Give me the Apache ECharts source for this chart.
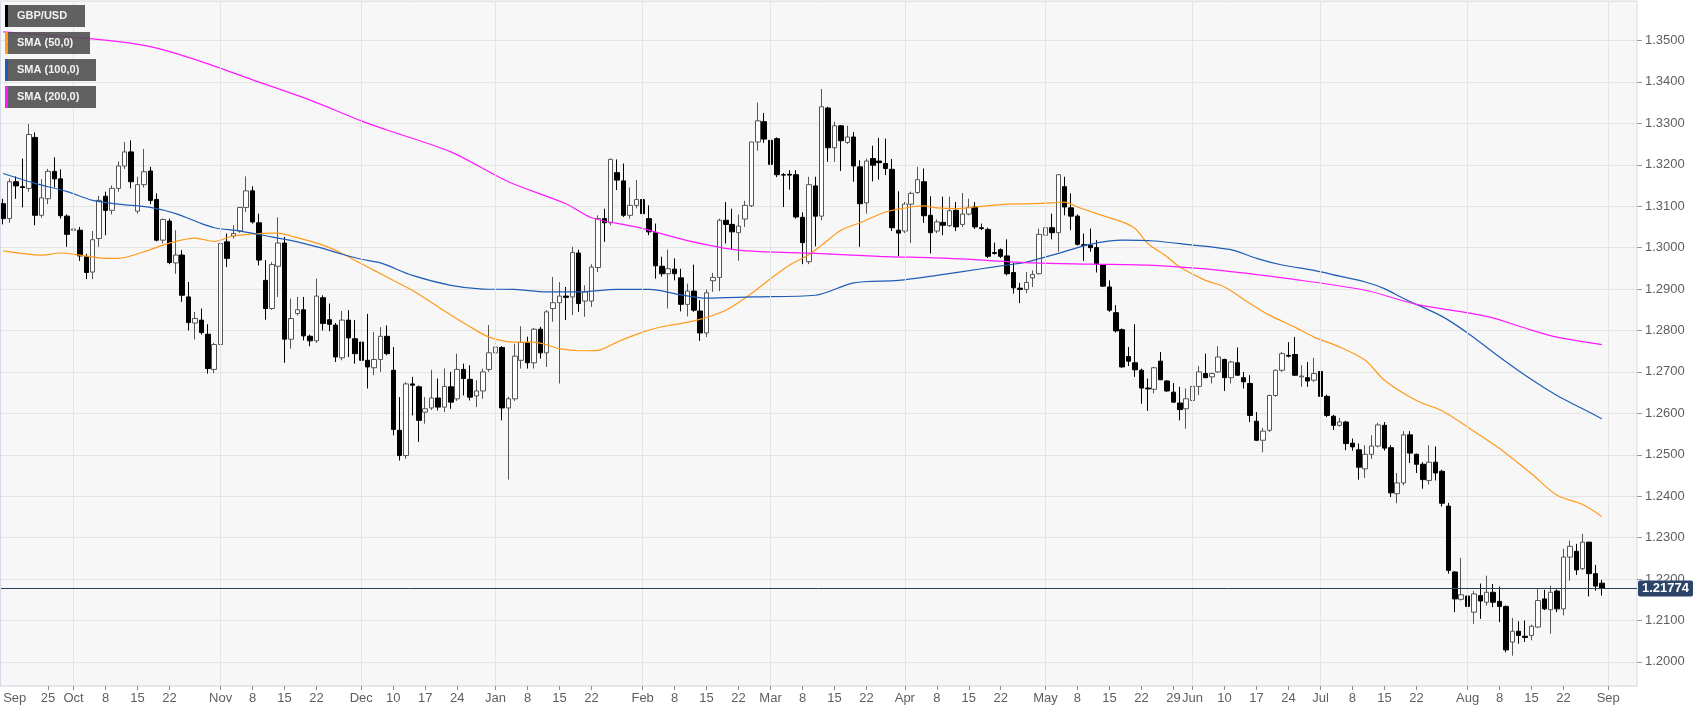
<!DOCTYPE html>
<html>
<head>
<meta charset="utf-8">
<script src="https://cdn.jsdelivr.net/npm/echarts@6/dist/echarts.min.js"></script>
<style>
html,body{margin:0;padding:0;background:#ffffff;}
#chart{width:1707px;height:712px;}
</style>
</head>
<body>
<div id="chart"></div>
<script>
// ---------- DATA ----------
const firstDay = '2018-09-14';
const slotCount = 256; // trading-day slots on the axis (data + empty space at right)

// candles per month: [open, high, low, close]
const candlesSep18 = [
  [1.3106,1.3118,1.3056,1.3070],[1.3070,1.3167,1.3060,1.3159],[1.3159,1.3172,1.3118,1.3149],
  [1.3147,1.3215,1.3097,1.3145],[1.3143,1.3298,1.3135,1.3273],[1.3266,1.3278,1.3054,1.3078],
  [1.3078,1.3165,1.3072,1.3120],[1.3118,1.3190,1.3105,1.3184],[1.3184,1.3218,1.3145,1.3166],
  [1.3166,1.3189,1.3070,1.3077],[1.3076,1.3080,1.3002,1.3032]
];
const candlesOct18 = [
  [1.3042,1.3074,1.3026,1.3045],[1.3042,1.3050,1.2968,1.2980],[1.2978,1.2985,1.2924,1.2940],
  [1.2941,1.3040,1.2924,1.3019],[1.3022,1.3125,1.3002,1.3114],[1.3124,1.3135,1.3030,1.3090],
  [1.3090,1.3150,1.3080,1.3143],[1.3143,1.3208,1.3135,1.3197],[1.3197,1.3255,1.3190,1.3231],
  [1.3231,1.3259,1.3143,1.3159],[1.3088,1.3171,1.3082,1.3152],[1.3152,1.3238,1.3145,1.3183],
  [1.3185,1.3195,1.3105,1.3114],[1.3116,1.3131,1.3015,1.3018],[1.3018,1.3070,1.3010,1.3068],
  [1.3064,1.3070,1.2960,1.2964],[1.2963,1.3042,1.2937,1.2982],[1.2982,1.2994,1.2869,1.2885],
  [1.2881,1.2917,1.2800,1.2819],[1.2818,1.2845,1.2778,1.2829],[1.2825,1.2853,1.2790,1.2795],
  [1.2791,1.2815,1.2696,1.2708],[1.2706,1.2770,1.2697,1.2766]
];
const candlesNov18 = [
  [1.2766,1.3020,1.2760,1.3010],[1.3014,1.3034,1.2953,1.2974],[1.3028,1.3054,1.3022,1.3034],
  [1.3040,1.3098,1.3036,1.3097],[1.3097,1.3172,1.3086,1.3137],[1.3137,1.3148,1.3058,1.3062],
  [1.3060,1.3082,1.2957,1.2970],[1.2921,1.2970,1.2826,1.2853],[1.2853,1.2965,1.2850,1.2959],
  [1.2955,1.3073,1.2881,1.3011],[1.3011,1.3026,1.2722,1.2779],[1.2779,1.2877,1.2756,1.2829],
  [1.2841,1.2881,1.2836,1.2850],[1.2850,1.2881,1.2776,1.2787],[1.2786,1.2790,1.2762,1.2775],
  [1.2775,1.2925,1.2770,1.2883],[1.2879,1.2885,1.2800,1.2817],[1.2826,1.2865,1.2798,1.2815],
  [1.2813,1.2818,1.2724,1.2736],[1.2734,1.2847,1.2728,1.2825],[1.2825,1.2849,1.2736,1.2782],
  [1.2780,1.2825,1.2720,1.2744]
];
const candlesDec18 = [
  [1.2772,1.2825,1.2708,1.2728],[1.2728,1.2840,1.2660,1.2712],[1.2710,1.2796,1.2692,1.2730],
  [1.2730,1.2808,1.2700,1.2786],[1.2786,1.2812,1.2740,1.2744],[1.2704,1.2760,1.2547,1.2561],
  [1.2559,1.2639,1.2486,1.2498],[1.2498,1.2675,1.2490,1.2671],[1.2671,1.2688,1.2595,1.2668],
  [1.2664,1.2667,1.2531,1.2583],[1.2603,1.2639,1.2575,1.2611],[1.2613,1.2705,1.2608,1.2637],
  [1.2637,1.2684,1.2607,1.2615],[1.2615,1.2708,1.2603,1.2665],[1.2664,1.2700,1.2611,1.2627],
  [1.2635,1.2744,1.2630,1.2706],[1.2706,1.2720,1.2643,1.2684],[1.2682,1.2716,1.2631,1.2639],
  [1.2642,1.2680,1.2615,1.2654],[1.2654,1.2708,1.2635,1.2700],[1.2706,1.2813,1.2700,1.2746]
];
const candlesJan19 = [
  [1.2746,1.2775,1.2724,1.2760],[1.2759,1.2762,1.2583,1.2613],[1.2613,1.2640,1.2440,1.2635],
  [1.2635,1.2768,1.2630,1.2738],[1.2728,1.2810,1.2708,1.2771],[1.2771,1.2785,1.2708,1.2722],
  [1.2722,1.2806,1.2708,1.2803],[1.2803,1.2809,1.2732,1.2746],[1.2746,1.2849,1.2712,1.2845],
  [1.2853,1.2929,1.2821,1.2867],[1.2867,1.2917,1.2672,1.2883],[1.2883,1.2905,1.2825,1.2880],
  [1.2881,1.3002,1.2837,1.2988],[1.2987,1.2995,1.2845,1.2865],[1.2871,1.2909,1.2833,1.2893],
  [1.2871,1.2960,1.2857,1.2953],[1.2952,1.3078,1.2941,1.3070],[1.3070,1.3094,1.3014,1.3060],
  [1.3060,1.3215,1.3054,1.3213],[1.3181,1.3213,1.3139,1.3163],[1.3161,1.3203,1.3074,1.3078],
  [1.3078,1.3145,1.3070,1.3102],[1.3102,1.3163,1.3095,1.3116]
];
const candlesFeb19 = [
  [1.3116,1.3120,1.3075,1.3082],[1.3070,1.3102,1.3030,1.3038],[1.3036,1.3058,1.2925,1.2956],
  [1.2955,1.2978,1.2930,1.2937],[1.2937,1.2995,1.2853,1.2949],[1.2948,1.2974,1.2921,1.2937],
  [1.2927,1.2949,1.2846,1.2863],[1.2863,1.2913,1.2834,1.2895],[1.2895,1.2959,1.2845,1.2849],
  [1.2847,1.2873,1.2775,1.2794],[1.2794,1.2899,1.2784,1.2891],[1.2920,1.2939,1.2893,1.2928],
  [1.2928,1.3070,1.2895,1.3066],[1.3066,1.3110,1.3010,1.3056],[1.3056,1.3094,1.2995,1.3038],
  [1.3036,1.3080,1.2968,1.3052],[1.3069,1.3113,1.3050,1.3102],[1.3101,1.3255,1.3098,1.3255],
  [1.3255,1.3350,1.3234,1.3306],[1.3304,1.3325,1.3253,1.3262]
];
const candlesMar19 = [
  [1.3259,1.3284,1.3175,1.3201],[1.3263,1.3266,1.3170,1.3176],[1.3176,1.3180,1.3098,1.3175],
  [1.3177,1.3187,1.3140,1.3175],[1.3176,1.3187,1.3070,1.3074],[1.3073,1.3085,1.2960,1.3012],
  [1.2966,1.3171,1.2960,1.3152],[1.3149,1.3171,1.3003,1.3076],[1.3076,1.3383,1.3066,1.3340],
  [1.3337,1.3340,1.3207,1.3241],[1.3241,1.3304,1.3207,1.3294],[1.3294,1.3296,1.3185,1.3258],
  [1.3254,1.3294,1.3250,1.3267],[1.3267,1.3279,1.3159,1.3197],[1.3195,1.3211,1.3002,1.3106],
  [1.3108,1.3215,1.3082,1.3209],[1.3215,1.3246,1.3160,1.3199],[1.3209,1.3265,1.3164,1.3205],
  [1.3203,1.3263,1.3175,1.3191],[1.3189,1.3214,1.3040,1.3048],[1.3042,1.3136,1.2979,1.3035]
];
const candlesApr19 = [
  [1.3040,1.3110,1.3035,1.3105],[1.3105,1.3135,1.3011,1.3131],[1.3133,1.3195,1.3130,1.3164],
  [1.3159,1.3191,1.3060,1.3077],[1.3078,1.3124,1.2986,1.3036],[1.3040,1.3068,1.3035,1.3062],
  [1.3061,1.3123,1.3030,1.3054],[1.3053,1.3123,1.3050,1.3089],[1.3090,1.3110,1.3040,1.3050],
  [1.3056,1.3132,1.3050,1.3081],[1.3081,1.3118,1.3078,1.3097],[1.3098,1.3110,1.3045,1.3050],
  [1.3048,1.3058,1.3042,1.3046],[1.3044,1.3048,1.2975,1.2979],[1.2988,1.3012,1.2983,1.2986],
  [1.2995,1.2998,1.2975,1.2979],[1.2980,1.3020,1.2933,1.2937],[1.2940,1.2963,1.2889,1.2903],
  [1.2902,1.2915,1.2866,1.2899],[1.2899,1.2941,1.2890,1.2916],[1.2927,1.2945,1.2905,1.2935],
  [1.2937,1.3046,1.2935,1.3032]
];
const candlesMay19 = [
  [1.3030,1.3101,1.3025,1.3048],[1.3048,1.3082,1.3020,1.3036],[1.3036,1.3176,1.2990,1.3176],
  [1.3147,1.3171,1.3078,1.3098],[1.3096,1.3131,1.3042,1.3076],[1.3076,1.3080,1.3005,1.3008],
  [1.3007,1.3034,1.2968,1.3005],[1.3006,1.3046,1.2990,1.3000],[1.3000,1.3018,1.2940,1.2962],
  [1.2958,1.2960,1.2905,1.2907],[1.2905,1.2921,1.2845,1.2849],[1.2843,1.2861,1.2795,1.2799],
  [1.2802,1.2805,1.2710,1.2712],[1.2737,1.2760,1.2714,1.2726],[1.2722,1.2815,1.2688,1.2705],
  [1.2704,1.2708,1.2623,1.2661],[1.2661,1.2684,1.2606,1.2659],[1.2658,1.2712,1.2648,1.2710],
  [1.2726,1.2748,1.2680,1.2681],[1.2678,1.2680,1.2652,1.2654],[1.2651,1.2673,1.2625,1.2627],
  [1.2625,1.2664,1.2583,1.2609],[1.2611,1.2660,1.2563,1.2635]
];
const candlesJun19 = [
  [1.2631,1.2686,1.2628,1.2665],[1.2665,1.2714,1.2644,1.2700],[1.2696,1.2744,1.2685,1.2686],
  [1.2688,1.2698,1.2672,1.2696],[1.2700,1.2762,1.2698,1.2736],[1.2730,1.2732,1.2654,1.2686],
  [1.2686,1.2727,1.2672,1.2724],[1.2722,1.2759,1.2690,1.2692],[1.2686,1.2700,1.2660,1.2676],
  [1.2672,1.2692,1.2579,1.2595],[1.2581,1.2603,1.2533,1.2535],[1.2535,1.2565,1.2506,1.2557],
  [1.2559,1.2645,1.2555,1.2643],[1.2643,1.2706,1.2640,1.2704],[1.2704,1.2748,1.2700,1.2744],
  [1.2740,1.2772,1.2735,1.2738],[1.2742,1.2784,1.2690,1.2692],[1.2688,1.2716,1.2664,1.2690],
  [1.2686,1.2724,1.2664,1.2678],[1.2680,1.2734,1.2676,1.2696]
];
const candlesJul19 = [
  [1.2701,1.2705,1.2635,1.2641],[1.2641,1.2645,1.2591,1.2595],[1.2593,1.2596,1.2560,1.2571],
  [1.2571,1.2589,1.2568,1.2579],[1.2579,1.2582,1.2511,1.2527],[1.2528,1.2539,1.2510,1.2519],
  [1.2512,1.2527,1.2440,1.2470],[1.2466,1.2523,1.2444,1.2501],[1.2501,1.2547,1.2490,1.2521],
  [1.2521,1.2577,1.2518,1.2572],[1.2571,1.2579,1.2510,1.2516],[1.2517,1.2523,1.2398,1.2408],
  [1.2406,1.2456,1.2383,1.2432],[1.2432,1.2557,1.2426,1.2548],[1.2548,1.2557,1.2480,1.2504],
  [1.2501,1.2503,1.2456,1.2477],[1.2477,1.2482,1.2418,1.2440],[1.2438,1.2523,1.2428,1.2482],
  [1.2482,1.2520,1.2438,1.2456],[1.2460,1.2464,1.2375,1.2383],[1.2376,1.2384,1.2213,1.2221],
  [1.2217,1.2219,1.2120,1.2152],[1.2151,1.2251,1.2148,1.2162]
];
const candlesAug19 = [
  [1.2159,1.2171,1.2080,1.2134],[1.2120,1.2171,1.2092,1.2164],[1.2160,1.2189,1.2104,1.2147],
  [1.2144,1.2208,1.2136,1.2168],[1.2168,1.2188,1.2132,1.2144],[1.2146,1.2182,1.2096,1.2134],
  [1.2134,1.2136,1.2023,1.2029],[1.2048,1.2106,1.2015,1.2074],[1.2074,1.2098,1.2044,1.2064],
  [1.2062,1.2100,1.2048,1.2059],[1.2064,1.2090,1.2052,1.2086],[1.2084,1.2176,1.2082,1.2148],
  [1.2152,1.2174,1.2125,1.2128],[1.2126,1.2184,1.2068,1.2168],[1.2171,1.2175,1.2120,1.2128],
  [1.2128,1.2273,1.2112,1.2253],[1.2253,1.2293,1.2196,1.2279],[1.2267,1.2285,1.2210,1.2222],
  [1.2225,1.2309,1.2222,1.2289],[1.2289,1.2290,1.2158,1.2213],[1.2213,1.2234,1.2172,1.2183],
  [1.2190,1.2198,1.2160,1.21774]
];
const lastPrice = 1.21774;

// moving averages: [trading-day index, value]
const sma50 = [
  [0,1.2992],[6,1.2982],[9,1.2987],[12,1.2982],[16,1.2974],[18,1.2974],[22,1.2990],[26,1.3011],
  [30,1.3023],[33,1.3015],[36,1.3028],[40,1.3034],[43,1.3035],[45,1.3028],[50,1.3006],[53,1.2986],
  [56,1.2961],[58,1.2945],[62,1.2913],[64,1.2897],[68,1.2857],[73,1.2809],[76,1.2784],[80,1.2772],
  [83,1.2772],[87,1.2756],[90,1.2751],[93,1.2752],[96,1.2772],[100,1.2796],[103,1.2809],[108,1.2823],
  [113,1.2849],[117,1.2889],[120,1.2925],[123,1.2958],[126,1.2983],[128,1.3006],[131,1.3042],
  [134,1.3060],[138,1.3086],[142,1.3098],[144,1.3101],[146,1.3096],[149,1.3094],[152,1.3098],
  [156,1.3104],[161,1.3106],[164,1.3108],[166,1.3110],[168,1.3098],[171,1.3082],[175,1.3062],
  [177,1.3046],[179,1.3010],[182,1.2978],[184,1.2953],[188,1.2921],[191,1.2905],[195,1.2865],
  [198,1.2837],[202,1.2808],[205,1.2784],[209,1.2760],[213,1.2728],[216,1.2680],[221,1.2631],
  [225,1.2606],[229,1.2567],[234,1.2515],[239,1.2454],[243,1.2402],[247,1.2380],[250,1.2351]
];
const sma100 = [
  [0,1.3179],[5,1.3155],[10,1.3135],[14,1.3114],[18,1.3105],[23,1.3097],[27,1.3082],[31,1.3058],
  [33,1.3048],[37,1.3040],[42,1.3026],[46,1.3014],[50,1.2998],[53,1.2984],[56,1.2972],[59,1.2963],
  [64,1.2933],[70,1.2909],[75,1.2900],[80,1.2899],[85,1.2893],[90,1.2893],[96,1.2899],[101,1.2899],
  [106,1.2886],[110,1.2878],[117,1.2881],[127,1.2885],[133,1.2915],[140,1.2921],[146,1.2933],
  [153,1.2949],[157,1.2958],[160,1.2965],[165,1.2986],[170,1.3008],[175,1.3018],[180,1.3016],
  [185,1.3008],[192,1.2995],[196,1.2974],[200,1.2958],[205,1.2945],[209,1.2931],[213,1.2917],
  [216,1.2901],[219,1.2877],[225,1.2834],[229,1.2794],[234,1.2736],[238,1.2692],[243,1.2643],
  [247,1.2611],[250,1.2587]
];
const sma200 = [
  [0,1.3521],[16,1.3501],[23,1.3485],[31,1.3449],[39,1.3405],[48,1.3356],[56,1.3306],[60,1.3284],
  [70,1.3231],[79,1.3159],[88,1.3106],[92,1.3072],[99,1.3050],[107,1.3017],[115,1.2994],
  [127,1.2986],[137,1.2979],[148,1.2974],[161,1.2963],[170,1.2960],[180,1.2957],[191,1.2944],
  [201,1.2925],[213,1.2897],[221,1.2863],[232,1.2834],[239,1.2801],[243,1.2784],[250,1.2766]
];

// x-axis tick labels
const tickDays = ['2018-09-14','2018-09-25','2018-10-01','2018-10-08','2018-10-15','2018-10-22',
  '2018-11-01','2018-11-08','2018-11-15','2018-11-22','2018-12-03','2018-12-10','2018-12-17','2018-12-24',
  '2019-01-01','2019-01-08','2019-01-15','2019-01-22','2019-02-01','2019-02-08','2019-02-15','2019-02-22',
  '2019-03-01','2019-03-08','2019-03-15','2019-03-22','2019-04-01','2019-04-08','2019-04-15','2019-04-22',
  '2019-05-01','2019-05-08','2019-05-15','2019-05-22','2019-05-29','2019-06-03','2019-06-10','2019-06-17',
  '2019-06-24','2019-07-01','2019-07-08','2019-07-15','2019-07-22','2019-08-01','2019-08-08','2019-08-15',
  '2019-08-22','2019-09-02'];
const tickLabels = ['Sep','25','Oct','8','15','22','Nov','8','15','22','Dec','10','17','24',
  'Jan','8','15','22','Feb','8','15','22','Mar','8','15','22','Apr','8','15','22',
  'May','8','15','22','29','Jun','10','17','24','Jul','8','15','22','Aug','8','15','22','Sep'];
const monthLineDays = ['2018-10-01','2018-11-01','2018-12-03','2019-01-01','2019-02-01','2019-03-01',
  '2019-04-01','2019-05-01','2019-06-03','2019-07-01','2019-08-01','2019-09-02'];

const legendItems = [
  {name:'GBP/USD', color:'#000000', w:80},
  {name:'SMA (50,0)', color:'#ff9a1a', w:85},
  {name:'SMA (100,0)', color:'#1f5db5', w:91},
  {name:'SMA (200,0)', color:'#ff19ff', w:91}
];

// ---------- BUILD ----------
const days = [];
(function(){
  const p = firstDay.split('-').map(Number);
  const d = new Date(Date.UTC(p[0], p[1]-1, p[2]));
  while (days.length < slotCount) {
    const wd = d.getUTCDay();
    if (wd !== 0 && wd !== 6) days.push(d.toISOString().slice(0,10));
    d.setUTCDate(d.getUTCDate()+1);
  }
})();

const candles = [].concat(candlesSep18, candlesOct18, candlesNov18, candlesDec18, candlesJan19,
  candlesFeb19, candlesMar19, candlesApr19, candlesMay19, candlesJun19, candlesJul19, candlesAug19);
const candleData = candles.map(r => [r[0], r[3], r[2], r[1]]); // open, close, low, high

const labelAt = {};
tickDays.forEach((t, i) => { const k = days.indexOf(t); if (k >= 0) labelAt[k] = tickLabels[i]; });

const toLine = arr => arr.map(p => [days[p[0]], p[1]]);

const narrow = "'Liberation Sans Narrow','Arial Narrow','Liberation Sans',Arial,sans-serif";

const graphics = [
  {type:'line', z:100, shape:{x1:0.5, y1:1, x2:0.5, y2:686}, style:{stroke:'#d3dbe8', lineWidth:1}}
];
legendItems.forEach((it, i) => {
  const top = 5 + i * 27;
  graphics.push({type:'rect', z:100, left:5, top:top, shape:{width:it.w, height:22}, style:{fill:'rgba(80,80,80,0.9)'}});
  graphics.push({type:'rect', z:101, left:5, top:top, shape:{width:3, height:22}, style:{fill:it.color}});
  graphics.push({type:'text', z:101, left:17, top:top + 5, style:{text:it.name, fill:'#f2f2f2',
    font:'bold 11px "Liberation Sans", Arial, sans-serif'}});
});

const chart = echarts.init(document.getElementById('chart'), null, {renderer:'canvas'});
chart.setOption({
  animation:false,
  backgroundColor:'#ffffff',
  grid:{left:-3.5, right:70, top:1, bottom:26, show:true, backgroundColor:'#f7f7f7',
        borderColor:'#d3dbe8', borderWidth:1, containLabel:false},
  xAxis:{
    type:'category', data:days, boundaryGap:true,
    axisLine:{show:false},
    axisTick:{show:true, alignWithLabel:true, length:4, lineStyle:{color:'#8c8c8c'},
              interval:(i) => (i in labelAt) && i !== 0},
    axisLabel:{interval:(i) => (i in labelAt), formatter:(v, i) => labelAt[i] || '',
               color:'#5e5e5e', fontSize:13, fontFamily:narrow, margin:6, alignMinLabel:'left'},
    splitLine:{show:false}
  },
  yAxis:{
    type:'value', position:'right', scale:true, min:1.19418, max:1.35953, splitNumber:16,
    axisLine:{show:false},
    axisTick:{show:true, length:5, lineStyle:{color:'#9a9a9a'}},
    axisLabel:{formatter:v => v.toFixed(4), color:'#5e5e5e', fontSize:13, fontFamily:narrow, margin:8,
               showMinLabel:false, showMaxLabel:false},
    splitLine:{show:true, lineStyle:{color:'#e4e4e4', width:1}}
  },
  graphic:graphics,
  series:[
    {
      type:'line', data:[], z:1, silent:true,
      markLine:{silent:true, symbol:['none','none'], label:{show:false}, animation:false,
        lineStyle:{color:'#e4e4e4', width:1, type:'solid'},
        data:monthLineDays.map(d => ({xAxis:d}))}
    },
    {
      name:'GBP/USD', type:'candlestick', data:candleData, barWidth:5, z:3,
      itemStyle:{color:'#ffffff', color0:'#000000', borderColor:'#555555', borderColor0:'#000000', borderWidth:1}
    },
    {name:'SMA (50,0)', type:'line', data:toLine(sma50), showSymbol:false, smooth:0.3, z:4,
     lineStyle:{color:'#ff9a1a', width:1.2}},
    {name:'SMA (100,0)', type:'line', data:toLine(sma100), showSymbol:false, smooth:0.3, z:4,
     lineStyle:{color:'#1f5db5', width:1.2}},
    {name:'SMA (200,0)', type:'line', data:toLine(sma200), showSymbol:false, smooth:0.3, z:4,
     lineStyle:{color:'#ff19ff', width:1.2}},
    {
      type:'line', data:[], z:5, silent:true,
      markLine:{silent:true, symbol:['none','none'], animation:false, precision:5,
        lineStyle:{color:'#2b3e5e', width:1, type:'solid'},
        label:{show:true, position:'end', distance:1, formatter:lastPrice.toFixed(5),
               backgroundColor:'#2c4468', color:'#ffffff', fontWeight:'bold', fontSize:13,
               fontFamily:narrow, padding:[2,4,1,4], borderRadius:2},
        data:[{yAxis:lastPrice}]}
    }
  ]
});
</script>
</body>
</html>
